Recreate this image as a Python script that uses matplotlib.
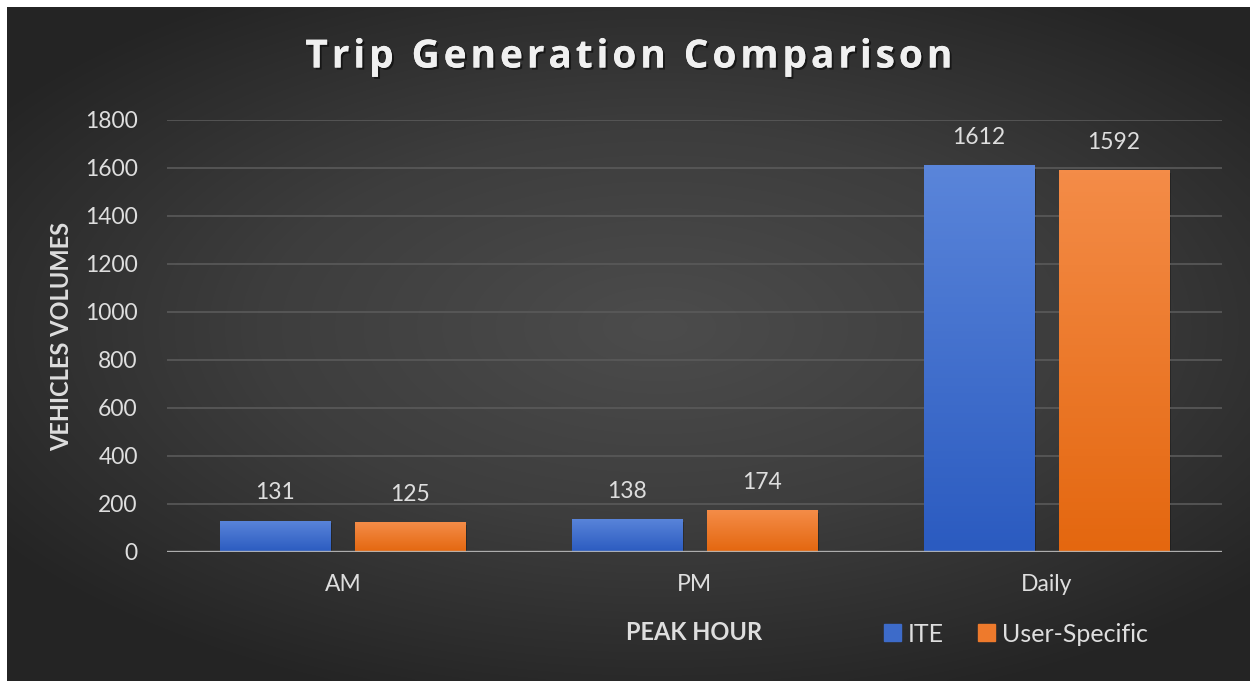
import numpy as np
import matplotlib.pyplot as plt
import matplotlib.patheffects as pe
from matplotlib.colors import LinearSegmentedColormap

categories = ['AM', 'PM', 'Daily']
ite = [131, 138, 1612]
user_specific = [125, 174, 1592]
series_names = ['ITE', 'User-Specific']
yticks = [0, 200, 400, 600, 800, 1000, 1200, 1400, 1600, 1800]
title = 'Trip Generation Comparison'

plt.rcParams['font.family'] = ['Lato', 'DejaVu Sans']
txt = '#dedede'

fig = plt.figure(figsize=(12.5, 6.81), dpi=100, facecolor='white')

# dark radial background
bg = fig.add_axes([7/1250, 0, 1 - 7/1250, 1 - 7/681], zorder=-5)
gx, gy = np.meshgrid(np.linspace(-1, 1, 400), np.linspace(-1, 1, 220))
r = np.sqrt((gx - 0.05)**2 + ((gy + 0.05) * 1.1)**2)
bg_cmap = LinearSegmentedColormap.from_list('bg', ['#4c4c4c', '#3d3d3d', '#242424'])
bg.imshow(np.clip(r / 1.3, 0, 1), cmap=bg_cmap, vmin=0, vmax=1, aspect='auto', interpolation='bicubic')
bg.axis('off')

ax = fig.add_axes([167/1250, (681-552)/681, (1222-167)/1250, (552-120)/681])
ax.set_facecolor('none')
ax.set_xlim(-0.5, 2.5)
ax.set_ylim(0, 1800)

w = 0.313
off = w/2 + 0.0355
x = np.arange(len(categories))
blue_cmap = LinearSegmentedColormap.from_list('b', ['#2b5bc0', '#5a85da'])
orange_cmap = LinearSegmentedColormap.from_list('o', ['#e4670f', '#f48c48'])

for vals, dx, cmap, solid in [(ite, -off, blue_cmap, '#4472c4'), (user_specific, off, orange_cmap, '#ed7d31')]:
    bars = ax.bar(x + dx, vals, width=w, color=solid, zorder=2)
    for b, v in zip(bars, vals):
        x0 = b.get_x()
        grad = np.linspace(0, 1, 100).reshape(-1, 1)
        im = ax.imshow(grad, cmap=cmap, origin='lower', aspect='auto',
                       extent=(x0, x0 + w, 0, v), zorder=3)
        im.set_clip_path(b)
        ax.annotate(str(v), (x0 + w/2, v), xytext=(0, 20), textcoords='offset points',
                    ha='center', va='center', color=txt, fontsize=16.5)
    # faint shadow
    ax.bar(x + dx + 0.006, vals, width=w, bottom=-12, color='black', alpha=0.25, zorder=1)

ax.set_xlim(-0.5, 2.5)
ax.set_ylim(0, 1800)
ax.set_yticks(yticks)
ax.set_xticks(x)
ax.set_xticklabels(categories)
ax.grid(axis='y', color='#5a5a5a', lw=1.2, zorder=0)
ax.axhline(0, color='#b8b8b8', lw=2.4, alpha=0.9, zorder=4)
for s in ax.spines.values():
    s.set_visible(False)
ax.tick_params(axis='both', length=0, colors=txt, labelsize=16.5)
ax.tick_params(axis='y', pad=21)
ax.tick_params(axis='x', pad=16)

# letter-spaced title (hair spaces between letters)
fig.text(628/1250, 1 - 57/681, '\u200a'.join(title), ha='center', va='center',
         fontsize=28, fontweight='bold', color='#f0f0f0', family=['Open Sans', 'DejaVu Sans'],
         path_effects=[pe.withSimplePatchShadow(offset=(1.5, -1.5), shadow_rgbFace='black', alpha=0.5),
                       pe.Normal()])
fig.text(62/1250, 1 - 336/681, 'VEHICLES VOLUMES', rotation=90, ha='center', va='center',
         fontsize=17, fontweight='bold', color=txt)
fig.text(694/1250, 1 - 632/681, 'PEAK HOUR', ha='center', va='center',
         fontsize=17, fontweight='bold', color=txt)

handles = [plt.Rectangle((0, 0), 1, 1, color='#3d6bc9'), plt.Rectangle((0, 0), 1, 1, color='#ee7a2c')]
leg = fig.legend(handles, series_names, loc='center left', bbox_to_anchor=(884/1250, 1 - 634/681),
                 ncol=2, frameon=False, fontsize=18, handlelength=0.68, handleheight=0.68,
                 handletextpad=0.25, columnspacing=1.4, borderpad=0, borderaxespad=0,
                 labelcolor=txt)

fig.savefig('out.png', dpi=100, facecolor='white')
